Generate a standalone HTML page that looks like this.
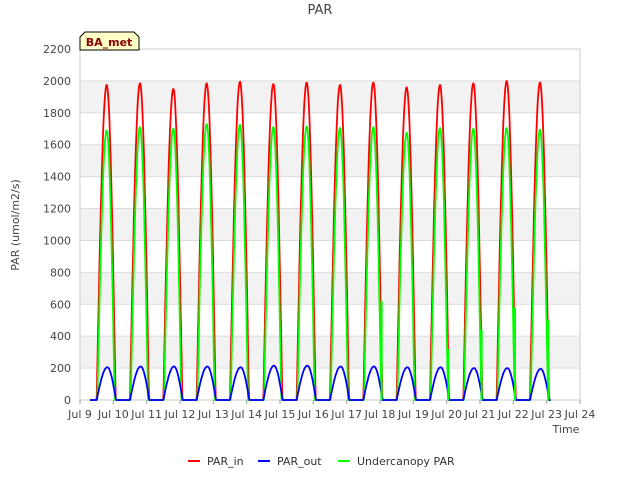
<!DOCTYPE html>
<html><head><meta charset="utf-8"><style>
body{margin:0;background:#fff;font-family:"Liberation Sans","DejaVu Sans",sans-serif}
svg text{font-family:"DejaVu Sans","Liberation Sans",sans-serif}
</style></head><body>
<svg id="chart" width="640" height="480" viewBox="0 0 640 480" xmlns="http://www.w3.org/2000/svg">
<rect x="0" y="0" width="640" height="480" fill="#fff"/>
<text x="320" y="14" text-anchor="middle" font-size="13" fill="#444">PAR</text>
<g id="grid"></g>
<g id="axes"></g>
<g id="series"></g>
<text x="19" y="225" transform="rotate(-90 19 225)" text-anchor="middle" font-size="11" fill="#444">PAR (umol/m2/s)</text>
<text x="566" y="433" text-anchor="middle" font-size="11" fill="#444">Time</text>
<g>
<path d="M80,50 L80,37 L85,32 L134,32 L139,37 L139,50 Z" fill="#ffffc8" stroke="#000" stroke-width="1"/>
<text x="109" y="46" text-anchor="middle" font-size="11" font-weight="bold" fill="#8b0000">BA_met</text>
</g>
<g>
<g><line x1="188" y1="461" x2="200" y2="461" stroke="#f00" stroke-width="2"/><text x="207" y="465" font-size="11" fill="#333">PAR_in</text></g>
<g><line x1="258" y1="461" x2="270" y2="461" stroke="#00f" stroke-width="2"/><text x="277" y="465" font-size="11" fill="#333">PAR_out</text></g>
<g><line x1="338" y1="461" x2="350" y2="461" stroke="#0f0" stroke-width="2"/><text x="357" y="465" font-size="11" fill="#333">Undercanopy PAR</text></g>
</g>
</svg>
<script>
const days = ["Jul 9","Jul 10","Jul 11","Jul 12","Jul 13","Jul 14","Jul 15","Jul 16","Jul 17","Jul 18","Jul 19","Jul 20","Jul 21","Jul 22"];
const xTickLabels = ["Jul 9","Jul 10","Jul 11","Jul 12","Jul 13","Jul 14","Jul 15","Jul 16","Jul 17","Jul 18","Jul 19","Jul 20","Jul 21","Jul 22","Jul 23","Jul 24"];
const yTicks = [0,200,400,600,800,1000,1200,1400,1600,1800,2000,2200];
const parInPeaks = [1975,1985,1950,1985,1995,1980,1990,1975,1990,1960,1975,1985,2000,1990];
const parOutPeaks = [205,210,210,210,205,215,215,210,210,205,205,200,200,195];
const underPeaks = [1690,1710,1700,1730,1725,1710,1715,1705,1710,1675,1705,1700,1705,1695];
const spikeDays = [9.05,11.05,12.05,13.05,14.05];
const spikeValues = [620,320,440,580,500];

const NS="http://www.w3.org/2000/svg";
const X0=80,X1=580,Y0=400,Y1=49;
const xs=d=>X0+(d)/15*(X1-X0);
const ys=v=>Y0-v/2200*(Y0-Y1);
const grid=document.getElementById('grid'),axes=document.getElementById('axes'),ser=document.getElementById('series');
function mk(tag,attrs,parent){const e=document.createElementNS(NS,tag);for(const k in attrs)e.setAttribute(k,attrs[k]);parent.appendChild(e);return e;}
for(let i=0;i<yTicks.length-1;i++){
  if(i%2===1){const r=mk('rect',{x:X0,y:ys(yTicks[i+1]),width:X1-X0,height:ys(yTicks[i])-ys(yTicks[i+1]),fill:'#f2f2f2'},grid);
  
  }
}
yTicks.forEach(v=>{
  const l=mk('line',{x1:X0,x2:X1,y1:ys(v),y2:ys(v),stroke:'#dcdcdc','stroke-width':1},grid);
  
  
  const t=mk('text',{x:X0-9,y:ys(v)+4,'text-anchor':'end','font-size':11,fill:'#444'},axes);t.textContent=v;
  
  
});
const fr=mk('rect',{x:X0,y:Y1,width:X1-X0,height:Y0-Y1,fill:'none',stroke:'#ccc'},axes);


xTickLabels.forEach((s,i)=>{
  const tk=mk('line',{x1:xs(i),x2:xs(i),y1:Y0,y2:Y0+4,stroke:'#999'},axes);
  
  
  const t=mk('text',{x:xs(i),y:Y0+18,'text-anchor':'middle','font-size':11,fill:'#444'},axes);t.textContent=s;
  
  
});
function shape(f,a,p,b){ if(f<=a||f>=b) return 0; return f<p?Math.sin((f-a)/(p-a)*Math.PI/2):Math.cos((f-p)/(b-p)*Math.PI/2);}
function series(peaks,a,p,b,color,name){
  let pts=[];
  pts.push([xs(0.3),ys(0)]);
  for(let i=0;i<peaks.length;i++){
    for(let k=0;k<=60;k++){const f=0.42+k*0.7/60;pts.push([xs(i+f),ys(peaks[i]*shape(f,a,p,b))]);}
  }
  const d='M'+pts.map(q=>q[0].toFixed(1)+','+q[1].toFixed(1)).join('L');
  const el=mk('path',{d:d,fill:'none',stroke:color,'stroke-width':1.8,'stroke-linejoin':'round'},ser);
  
  
}
series(parInPeaks,0.5,0.8,1.07,'#f00','par-in-line');
series(underPeaks,0.52,0.8,1.04,'#0f0','undercanopy-par-line');
series(parOutPeaks,0.5,0.82,1.08,'#00f','par-out-line');
spikeDays.forEach((d,i)=>{
  const s=mk('line',{x1:xs(d),x2:xs(d),y1:ys(0),y2:ys(spikeValues[i]),stroke:'#0f0','stroke-width':2},ser);
  
  
});
</script>
</body></html>
